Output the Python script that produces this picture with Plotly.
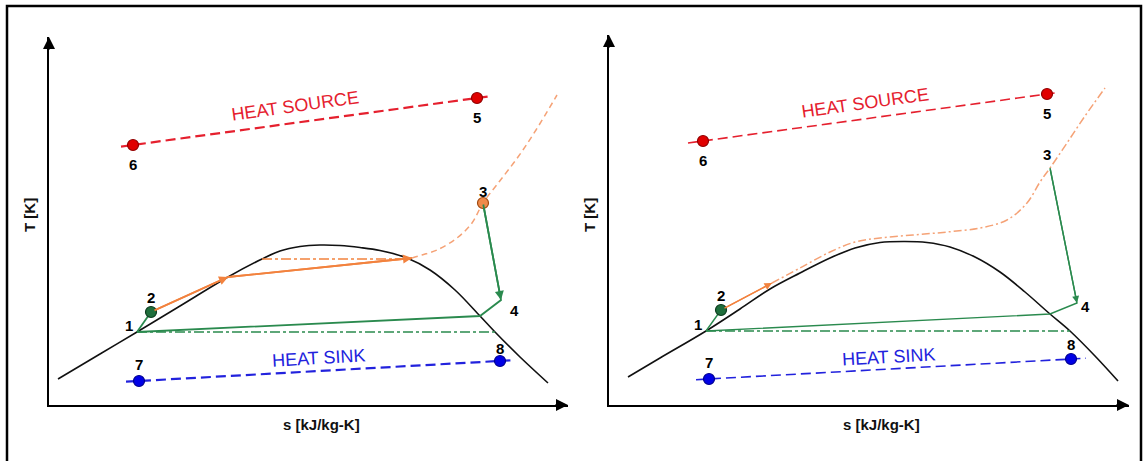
import plotly.graph_objects as go

W, H = 1147, 461

# ---------------- Left panel: subcritical cycle ----------------
L_dome_s = [9, 51, 88, 131, 179, 213, 231, 251, 271, 291, 311, 331, 358, 381, 406, 431, 446, 471, 499]
L_dome_T = [26, 51, 73, 99, 128, 146, 154, 158.5, 160, 159.5, 157.5, 154.5, 147, 135, 115, 89, 73, 48, 22]

L_super_s = [363, 373, 388, 408, 423, 434, 450, 469, 487, 508]
L_super_T = [147, 150, 155, 167, 182, 202, 223, 248, 275, 310]

L_heat_s = [104, 179, 363]
L_heat_T = [94, 128, 147]

L_iso_s = [213, 363]
L_iso_T = [146, 146]

L_pump_s = [88, 102]
L_pump_T = [73, 93]

L_exp_s = [434, 452, 431, 88]
L_exp_T = [202, 105, 89, 73]

L_cond_s = [88, 446]
L_cond_T = [73, 73]

L_src_s = [72, 439]
L_src_T = [258.4, 308.5]
L_src_pts_s = [84, 428]
L_src_pts_T = [260, 307]

L_snk_s = [77, 463]
L_snk_T = [23.3, 44.7]
L_snk_pts_s = [90, 451]
L_snk_pts_T = [24, 44]

L_p2 = (102, 93)
L_p3 = (434, 202)

L_lab_text = ["1", "2", "3", "4", "5", "6", "7", "8"]
L_lab_s = [80, 102, 434, 465, 428, 84, 90, 451]
L_lab_T = [80, 108, 214, 95, 288, 241, 41, 57]

# ---------------- Right panel: transcritical cycle ----------------
R_dome_s = [19, 51, 97, 131, 161, 191, 221, 246, 271, 296, 318, 341, 366, 391, 416, 441, 461, 486, 509]
R_dome_T = [28, 47, 74, 96, 116, 132, 147, 157, 162.5, 163.5, 162.5, 158, 148, 133, 113, 91, 74, 49, 24]

R_super_s = [163, 191, 221, 246, 271, 304, 338, 371, 398, 418, 431, 441, 458, 476, 496]
R_super_T = [122, 137, 153, 163, 167, 170, 173, 177, 185, 202, 223, 237, 262, 289, 317]

R_heat_s = [114, 163]
R_heat_T = [96, 122]

R_pump_s = [97, 112]
R_pump_T = [74, 95]

R_exp_s = [441, 468, 441, 97]
R_exp_T = [237, 102, 91, 74]

R_cond_s = [97, 461]
R_cond_T = [74, 74]

R_src_s = [79, 450]
R_src_T = [262, 312.6]
R_src_pts_s = [94, 438]
R_src_pts_T = [264, 311]

R_snk_s = [87, 477]
R_snk_T = [25.3, 46.8]
R_snk_pts_s = [100, 462]
R_snk_pts_T = [26, 46]

R_p2 = (112, 95)

R_lab_text = ["1", "2", "3", "4", "5", "6", "7", "8"]
R_lab_s = [89, 112, 438, 476, 438, 94, 100, 462]
R_lab_T = [81, 110, 251, 99, 292, 245, 43, 61]

# ---------------- styling ----------------
RED = "#e5202e"
BLUE = "#2222dd"
GREEN = "#2a8a4e"
ORANGE = "#f2823e"
ORANGE_LT = "#f5a276"
FONT = "Liberation Sans, Arial, sans-serif"

fig = go.Figure()


def line(s, T, color, width, dash="solid", xa="x", ya="y", shape="linear"):
    fig.add_trace(go.Scatter(x=s, y=T, mode="lines", xaxis=xa, yaxis=ya,
                             line=dict(color=color, width=width, dash=dash, shape=shape),
                             hoverinfo="skip", showlegend=False, cliponaxis=False))


def pts(s, T, color, edge, xa="x", ya="y", size=11):
    fig.add_trace(go.Scatter(x=s, y=T, mode="markers", xaxis=xa, yaxis=ya,
                             marker=dict(color=color, size=size, line=dict(color=edge, width=1.2)),
                             hoverinfo="skip", showlegend=False, cliponaxis=False))


annotations = []


def arrow(tip, tail, color, width, xa="x", ya="y", size=1.0):
    annotations.append(dict(x=tip[0], y=tip[1], ax=tail[0], ay=tail[1], xref=xa, yref=ya,
                            axref=xa, ayref=ya, text="", showarrow=True, arrowhead=2,
                            arrowsize=size, arrowwidth=width, arrowcolor=color, standoff=0))


def text(s, T, t, color="black", size=15, bold=True, angle=0, xa="x", ya="y"):
    annotations.append(dict(x=s, y=T, xref=xa, yref=ya, text=f"<b>{t}</b>" if bold else t,
                            showarrow=False, textangle=angle, xanchor="center", yanchor="middle",
                            font=dict(family=FONT, size=size, color=color)))


def panel(xa, ya, dome_s, dome_T, super_s, super_T, super_dash, heat_s, heat_T,
          pump_s, pump_T, exp_s, exp_T, cond_s, cond_T, src_s, src_T, src_ps, src_pT,
          snk_s, snk_T, snk_ps, snk_pT, p2, lab_t, lab_s, lab_T, src_w, lw):
    line(dome_s, dome_T, "#111111", 1.6, xa=xa, ya=ya, shape="spline")
    line(src_s, src_T, RED, src_w, "10px,5px", xa, ya)
    line(snk_s, snk_T, BLUE, src_w, "10px,5px", xa, ya)
    line(super_s, super_T, ORANGE_LT, 1.5, super_dash, xa, ya, shape="spline")
    line(heat_s, heat_T, ORANGE, lw, "solid", xa, ya)
    line(cond_s, cond_T, GREEN, 1.5, "10px,3px,3px,3px", xa, ya)
    line(pump_s, pump_T, GREEN, lw, "solid", xa, ya)
    line(exp_s, exp_T, GREEN, lw, "solid", xa, ya)
    pts(src_ps, src_pT, "#e00000", "#900000", xa, ya)
    pts(snk_ps, snk_pT, "#0000e6", "#000090", xa, ya)
    pts([p2[0]], [p2[1]], "#1f6e3c", "#0d3d1f", xa, ya)
    for t, s, T in zip(lab_t, lab_s, lab_T):
        text(s, T, t, xa=xa, ya=ya)


panel("x", "y", L_dome_s, L_dome_T, L_super_s, L_super_T, "6px,4px", L_heat_s, L_heat_T,
      L_pump_s, L_pump_T, L_exp_s, L_exp_T, L_cond_s, L_cond_T, L_src_s, L_src_T,
      L_src_pts_s, L_src_pts_T, L_snk_s, L_snk_T, L_snk_pts_s, L_snk_pts_T, L_p2,
      L_lab_text, L_lab_s, L_lab_T, 2.2, 1.8)
line(L_iso_s, L_iso_T, ORANGE, 1.5, "10px,3px,3px,3px", "x", "y")
pts([L_p3[0]], [L_p3[1]], "#f08a4a", "#a04a10", "x", "y")
arrow((L_heat_s[1], L_heat_T[1]), (L_heat_s[0], L_heat_T[0]), ORANGE, 1.8, "x", "y")
arrow((L_heat_s[2], L_heat_T[2]), (L_heat_s[1], L_heat_T[1]), ORANGE, 1.8, "x", "y")
arrow((L_exp_s[1], L_exp_T[1]), (L_exp_s[0], L_exp_T[0]), GREEN, 1.8, "x", "y")

panel("x2", "y2", R_dome_s, R_dome_T, R_super_s, R_super_T, "8px,3px,2px,3px", R_heat_s, R_heat_T,
      R_pump_s, R_pump_T, R_exp_s, R_exp_T, R_cond_s, R_cond_T, R_src_s, R_src_T,
      R_src_pts_s, R_src_pts_T, R_snk_s, R_snk_T, R_snk_pts_s, R_snk_pts_T, R_p2,
      R_lab_text, R_lab_s, R_lab_T, 1.6, 1.4)
arrow((R_heat_s[1], R_heat_T[1]), (R_heat_s[0], R_heat_T[0]), ORANGE, 1.5, "x2", "y2")
arrow((R_exp_s[1], R_exp_T[1]), (R_exp_s[0], R_exp_T[0]), GREEN, 1.4, "x2", "y2")

# stream labels
text(246, 299, "HEAT SOURCE", RED, 18, False, -8, "x", "y")
text(269, 47, "HEAT SINK", BLUE, 18, False, -3.3, "x", "y")
text(256, 302, "HEAT SOURCE", RED, 18, False, -8, "x2", "y2")
text(279, 48, "HEAT SINK", BLUE, 18, False, -3.2, "x2", "y2")

# axis arrowheads
L_xmax, L_ymax = 519, 368
R_xmax, R_ymax = 520, 370
for xa, ya, xm, ym in [("x", "y", L_xmax, L_ymax), ("x2", "y2", R_xmax, R_ymax)]:
    annotations.append(dict(x=xm, y=0, xref=xa, yref=ya, ax=-14, ay=0, text="", showarrow=True,
                            arrowhead=2, arrowsize=1.2, arrowwidth=2, arrowcolor="black", standoff=0))
    annotations.append(dict(x=0, y=ym, xref=xa, yref=ya, ax=0, ay=14, text="", showarrow=True,
                            arrowhead=2, arrowsize=1.2, arrowwidth=2, arrowcolor="black", standoff=0))

# axis titles (paper coordinates)
for xc, yc, t, ang in [(30, 215, "T [K]", -90), (321, 424, "s [kJ/kg-K]", 0),
                       (590, 215, "T [K]", -90), (881, 424, "s [kJ/kg-K]", 0)]:
    annotations.append(dict(x=xc / W, y=1 - yc / H, xref="paper", yref="paper", text=f"<b>{t}</b>",
                            showarrow=False, textangle=ang, xanchor="center", yanchor="middle",
                            font=dict(family=FONT, size=15, color="#111111")))

axis_common = dict(showgrid=False, zeroline=False, showticklabels=False, ticks="",
                   showline=True, linecolor="black", linewidth=2, fixedrange=True)

fig.update_layout(
    width=W, height=H, margin=dict(l=0, r=0, t=0, b=0),
    paper_bgcolor="white", plot_bgcolor="white", showlegend=False,
    xaxis=dict(domain=[49 / W, 568 / W], range=[0, L_xmax], anchor="y", **axis_common),
    yaxis=dict(domain=[(H - 405) / H, (H - 37) / H], range=[0, L_ymax], anchor="x", **axis_common),
    xaxis2=dict(domain=[609 / W, 1129 / W], range=[0, R_xmax], anchor="y2", **axis_common),
    yaxis2=dict(domain=[(H - 405) / H, (H - 35) / H], range=[0, R_ymax], anchor="x2", **axis_common),
    annotations=annotations,
    shapes=[dict(type="rect", xref="paper", yref="paper", x0=7 / W, x1=1141 / W,
                 y0=-0.05, y1=1 - 6 / H, line=dict(color="black", width=2.5))],
)

fig.write_html("out.html")
